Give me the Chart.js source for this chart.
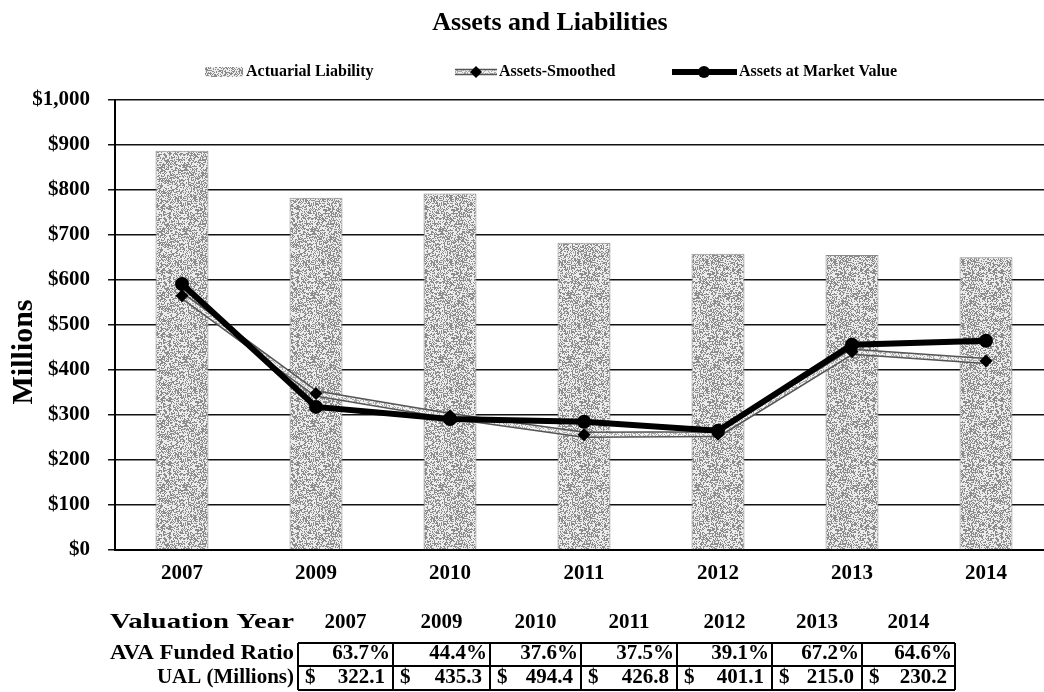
<!DOCTYPE html>
<html><head><meta charset="utf-8">
<script src="https://cdn.jsdelivr.net/npm/chart.js@4.4.1/dist/chart.umd.min.js"></script>
<style>
html,body{margin:0;padding:0;background:#fff;overflow:hidden;width:1044px;height:692px}
#wrap{position:absolute;left:0;top:0;width:1060px;height:692px}
</style>
</head><body><div id="wrap"><canvas id="c" width="1060" height="692"></canvas></div>
<script>
const chartTitle = 'Assets and Liabilities';
const yAxisTitle = 'Millions';
const categories = ['2007', '2009', '2010', '2011', '2012', '2013', '2014'];
const actuarialLiability = [887.3, 782.9, 792.3, 682.9, 658.6, 655.5, 650.3];
const assetsSmoothed = [565.2, 347.6, 297.9, 256.1, 257.5, 440.5, 420.1];
const assetsMarket = [591, 318, 291, 285, 265, 456, 465];
const yTickLabels = ['$0', '$100', '$200', '$300', '$400', '$500', '$600', '$700', '$800', '$900', '$1,000'];
const seriesNames = ['Actuarial Liability', 'Assets-Smoothed', 'Assets at Market Value'];
const tableHeaderLabel = 'Valuation Year';
const fundedRatioLabel = 'AVA Funded Ratio';
const fundedRatio = ['63.7%', '44.4%', '37.6%', '37.5%', '39.1%', '67.2%', '64.6%'];
const ualLabel = 'UAL (Millions)';
const ualValues = ['322.1', '435.3', '494.4', '426.8', '401.1', '215.0', '230.2'];

const SERIF = '"Liberation Serif", "Times New Roman", serif';

function speckle(dark, light, p, seed) {
  const c = document.createElement('canvas'); c.width = 64; c.height = 64;
  const x = c.getContext('2d');
  const img = x.createImageData(64, 64);
  for (let j = 0; j < 64; j++) for (let i = 0; i < 64; i++) {
    let h = Math.sin(i * 12.9898 + j * 78.233 + seed) * 43758.5453; h -= Math.floor(h);
    const v = h < p ? dark : light;
    const k = (j * 64 + i) * 4;
    img.data[k] = img.data[k + 1] = img.data[k + 2] = v; img.data[k + 3] = 255;
  }
  x.putImageData(img, 0, 0);
  return x.createPattern(c, 'repeat');
}
const barPattern = speckle(140, 236, 0.45, 1.7);
const linePattern = speckle(170, 240, 0.35, 3.1);

const outlinePlugin = {
  id: 'outline',
  beforeDatasetDraw(chart, args) {
    if (args.index !== 1) return;
    const pts = args.meta.data;
    const ctx = chart.ctx;
    ctx.save();
    ctx.beginPath();
    pts.forEach((p, i) => i ? ctx.lineTo(p.x, p.y) : ctx.moveTo(p.x, p.y));
    ctx.strokeStyle = '#555'; ctx.lineWidth = 6.5; ctx.lineJoin = 'round';
    ctx.stroke();
    ctx.restore();
  }
};

function fitText(ctx, text, rightX, y, width) {
  const w = ctx.measureText(text).width;
  const s = width / w;
  ctx.save();
  ctx.translate(rightX - width, y);
  ctx.scale(s, 1);
  ctx.textAlign = 'left';
  ctx.fillText(text, 0, 0);
  ctx.restore();
}

const decorPlugin = {
  id: 'decor',
  afterDraw(chart) {
    const ctx = chart.ctx;
    ctx.save();
    ctx.fillStyle = '#000';
    // title
    ctx.font = 'bold 26px ' + SERIF;
    ctx.textAlign = 'center'; ctx.textBaseline = 'middle';
    ctx.fillText(chartTitle, 550, 23);
    // legend
    const ly = 72;
    ctx.font = 'bold 16px ' + SERIF;
    ctx.textAlign = 'left';
    ctx.fillStyle = barPattern; ctx.fillRect(205, ly - 5, 38, 10);
    ctx.fillStyle = '#000'; ctx.fillText(seriesNames[0], 246, ly);
    ctx.beginPath(); ctx.moveTo(455, ly); ctx.lineTo(497, ly);
    ctx.strokeStyle = '#555'; ctx.lineWidth = 6.5; ctx.stroke();
    ctx.strokeStyle = linePattern; ctx.lineWidth = 3.5; ctx.stroke();
    ctx.beginPath(); ctx.moveTo(476, ly - 6); ctx.lineTo(482, ly); ctx.lineTo(476, ly + 6); ctx.lineTo(470, ly); ctx.closePath();
    ctx.fillStyle = '#000'; ctx.fill();
    ctx.fillText(seriesNames[1], 499, ly);
    ctx.beginPath(); ctx.moveTo(672, ly); ctx.lineTo(737, ly);
    ctx.strokeStyle = '#000'; ctx.lineWidth = 6; ctx.stroke();
    ctx.beginPath(); ctx.arc(704, ly, 6, 0, Math.PI * 2); ctx.fill();
    ctx.fillText(seriesNames[2], 739, ly);
    // y axis title
    ctx.save();
    ctx.translate(24, 352); ctx.rotate(-Math.PI / 2);
    ctx.font = 'bold 30px ' + SERIF; ctx.textAlign = 'center';
    ctx.fillText(yAxisTitle, 0, 0);
    ctx.restore();
    // table
    const edges = [298, 393, 490, 581, 677, 772, 862, 955];
    const rowY = [623, 654, 678];
    const boxTop = 643, boxMid = 666, boxBot = 690;
    ctx.font = 'bold 21px ' + SERIF;
    fitText(ctx, tableHeaderLabel, 294, rowY[0], 184);
    fitText(ctx, fundedRatioLabel, 294, rowY[1], 184);
    ctx.textAlign = 'right';
    ctx.fillText(ualLabel, 294, rowY[2]);
    for (let i = 0; i < categories.length; i++) {
      const l = edges[i], r = edges[i + 1];
      ctx.textAlign = 'center';
      ctx.fillText(categories[i], (l + r) / 2, rowY[0]);
      ctx.textAlign = 'right';
      ctx.fillText(fundedRatio[i], r - 3, rowY[1]);
      ctx.fillText(ualValues[i], r - 8, rowY[2]);
      ctx.textAlign = 'left';
      ctx.fillText('$', l + 7, rowY[2]);
    }
    ctx.strokeStyle = '#000'; ctx.lineWidth = 2;
    ctx.beginPath();
    ctx.moveTo(edges[0], boxTop); ctx.lineTo(edges[7], boxTop);
    ctx.moveTo(edges[0], boxMid); ctx.lineTo(edges[7], boxMid);
    ctx.moveTo(edges[0], boxBot); ctx.lineTo(edges[7], boxBot);
    edges.forEach(e => { ctx.moveTo(e, boxTop); ctx.lineTo(e, boxBot); });
    ctx.stroke();
    ctx.restore();
  }
};

new Chart(document.getElementById('c'), {
  data: {
    labels: categories,
    datasets: [
      { type: 'bar', label: seriesNames[0], data: actuarialLiability, backgroundColor: barPattern,
        borderColor: '#8a8a8a', borderWidth: 1, barPercentage: 0.395, categoryPercentage: 1.0, order: 3 },
      { type: 'line', label: seriesNames[1], data: assetsSmoothed, borderColor: linePattern, borderWidth: 3.5,
        tension: 0, pointStyle: 'rectRot', pointRadius: 6.5, pointBackgroundColor: '#000', pointBorderColor: '#000',
        pointBorderWidth: 0, order: 2 },
      { type: 'line', label: seriesNames[2], data: assetsMarket, borderColor: '#000', borderWidth: 6,
        tension: 0, pointStyle: 'circle', pointRadius: 7, pointBackgroundColor: '#000', pointBorderColor: '#000',
        pointBorderWidth: 0, order: 1 }
    ]
  },
  options: {
    responsive: false, animation: false, devicePixelRatio: 1,
    layout: { padding: { top: 100, left: 0, right: 5, bottom: 0 } },
    plugins: { legend: { display: false }, title: { display: false }, tooltip: { enabled: false } },
    scales: {
      x: {
        type: 'category', offset: true,
        grid: { display: false, drawTicks: false },
        border: { display: true, color: '#000', width: 2 },
        ticks: { color: '#000', font: { family: SERIF, size: 21, weight: 'bold' }, padding: 11, maxRotation: 0 },
        afterFit(s) { s.height = 142; }
      },
      y: {
        min: 0, max: 1000,
        ticks: { stepSize: 100, color: '#000', padding: 18,
          font: { family: SERIF, size: 21, weight: 'bold' },
          callback: (v, i) => yTickLabels[i] },
        grid: { color: '#111', lineWidth: 1.5, tickLength: 7, drawTicks: true },
        border: { display: true, color: '#000', width: 2 },
        afterFit(s) { s.width = 115; }
      }
    }
  },
  plugins: [outlinePlugin, decorPlugin]
});
</script>
</body></html>
